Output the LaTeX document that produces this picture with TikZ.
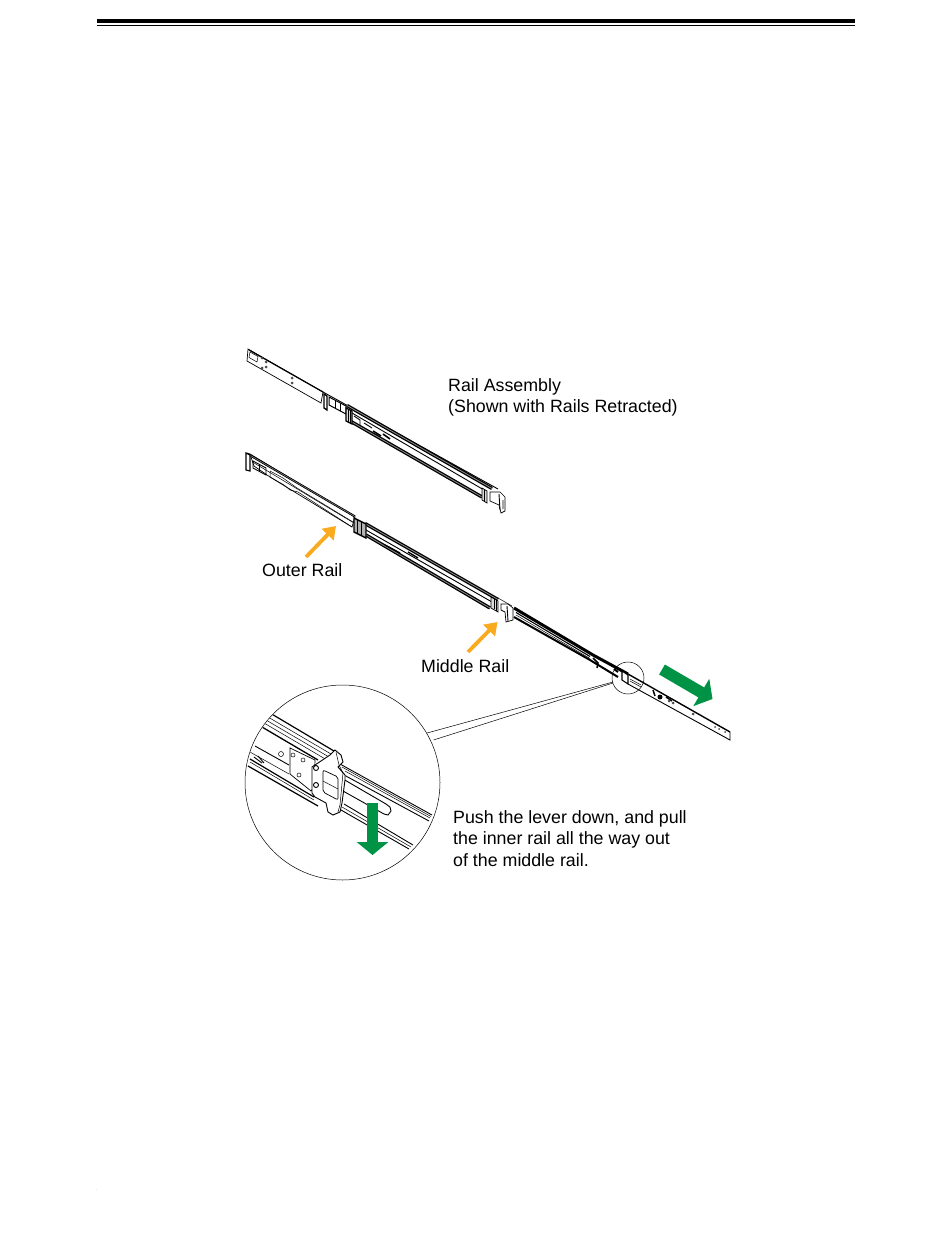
\documentclass[tikz,border=0pt]{standalone}
\usepackage{fontspec}
\setmainfont{Liberation Sans}
\usepackage{tikz}
\usetikzlibrary{arrows.meta}
\definecolor{rail_green}{RGB}{0, 146, 69}
\definecolor{rail_orange}{RGB}{250, 170, 30}
\tikzstyle{lbl}=[anchor=north west,align=left,inner sep=0pt,
  font=\fontsize{17.8}{21.7}\selectfont]
\tikzstyle{thin}=[line width=0.5pt,draw=black]
\tikzstyle{mid}=[line width=0.9pt,draw=black]
\tikzstyle{band}=[line width=2.2pt,draw=black]
\tikzstyle{dband}=[line width=1.3pt,draw=black,double=black!45,double distance=0.8pt]
\tikzstyle{part}=[line width=0.7pt,draw=black,fill=white]
\tikzstyle{hole}=[circle,fill=black!70,inner sep=0pt,minimum size=3pt]
\tikzstyle{oarrow}=[line width=3.8pt,draw=rail_orange,
  -{Triangle[length=12pt,width=16pt,fill=rail_orange]}]
\tikzstyle{garrow}=[line width=11.5pt,draw=rail_green,
  -{Triangle[length=13pt,width=31pt,fill=rail_green]}]
\begin{document}
\begin{tikzpicture}[x=1pt,y=-1pt]
  \useasboundingbox (0,0) rectangle (950,1241);
  \fill [black] (97,19.5) rectangle (855,23.5);
  \fill [black] (97,25.2) rectangle (855,26);

  \draw [part] (248,349) -- (323,392) -- (321,403) -- (247,361) -- cycle;
  \draw [line width=1.2pt] (249,350) -- (323,392);
  \draw [thin] (250,352) -- (258,356.5) -- (257,362) -- (249,357.5) -- cycle;
  \node [style=hole] (ha) at (262,358) {};
  \node [style=hole] (hb) at (262,368) {};
  \node [style=hole] (hc) at (266,362) {};
  \node [style=hole] (hd) at (266,367) {};
  \node [style=hole] (he) at (292,378) {};
  \node [style=hole] (hf) at (292,383) {};
  \draw [mid] (323,392) -- (498,489);
  \draw [dband] (347,405.5) -- (492,488.5);
  \draw [mid] (352,413) -- (484,490);
  \draw [dband] (351,421.5) -- (482,497);
  \draw [part,line width=1.3pt] (324,394) -- (327,396) -- (327,410) -- (324,408) -- cycle;
  \draw [part,line width=1pt] (329,397) -- (346,406) -- (346,414) -- (329,405) -- cycle;
  \draw [mid] (335,400) -- (335,408) (340,403) -- (340,411);
  \draw [part,line width=1.2pt,fill=black!15] (346,408) -- (352,411) -- (352,424) -- (346,421) -- cycle;
  \draw [thin] (348,409) -- (348,422) (350,410) -- (350,423);
  \draw [mid] (354,416) -- (360,420) -- (360,425) (364,423) -- (372,428);
  \draw [line width=1.6pt] (373,431) -- (381,436) (383,434) -- (390,439);
  \draw [part,fill=black!15] (482,488) -- (487,491) -- (487,503) -- (482,500) -- cycle;
  \draw [thin] (484.5,489.5) -- (484.5,501.5);
  \draw [part] (490,492) -- (500,492) -- (505,497) -- (505,511) -- (501,513) -- (499,505) -- (490,501) -- cycle;
  \draw [mid] (499,494) -- (500,510) (503,500) -- (503,509);

  \draw [part] (250,454) -- (355,517) -- (352,527) -- (270,477) -- (254,466) -- cycle;
  \draw [dband,line width=0.8pt,double distance=0.5pt] (247,453.5) -- (355,516.5);
  \draw [thin] (252,461.7) -- (353,522.5);
  \draw [thin] (270,471) -- (283,478) -- (297,488) -- (353,522);
  \draw [thin] (270,471) -- (270,477) -- (284,485) -- (290,490) -- (298,492) -- (352,527);
  \draw [part,line width=1.2pt] (246,453) -- (250,455) -- (250,471) -- (246,470) -- cycle;
  \draw [mid] (253,461) -- (266,468) -- (266,475) -- (253,468) -- cycle;
  \draw [mid] (259,465) -- (259,472);
  \draw [dband] (365,523.5) -- (498,599.5);
  \draw [mid] (366,530) -- (492,602);
  \draw [dband] (366,535) -- (490,608);
  \draw [part,line width=1.4pt,fill=black!30] (354,518) -- (366,524) -- (366,538) -- (354,532) -- cycle;
  \draw [mid] (357,520) -- (357,533) (361,522) -- (361,535);
  \draw [line width=1.4pt] (385,545) -- (400,553) (408,552) -- (418,558);
  \draw [part,fill=black!15] (491,597) -- (498,601) -- (498,612) -- (491,608) -- cycle;
  \draw [thin] (494,599) -- (494,609) (496,600) -- (496,611);
  \draw [thin] (498,598) -- (512,606);
  \draw [part] (501,604) -- (508,604) -- (513,608) -- (513,620) -- (506,622) -- (505,612) -- (501,610) -- cycle;
  \draw [mid] (507,606) -- (508,621);

  \draw [line width=3pt] (514,608) -- (593,655) -- (628,674);
  \draw [line width=1.1pt] (516,612.5) -- (590,656.5);
  \draw [line width=2pt] (514,617) -- (590,660) -- (618,677);
  \draw [thin] (516,615) -- (590,658.5);
  \draw [line width=1.5pt] (593,658) -- (598,663) -- (597,668);
  \draw [line width=2pt] (614,669) -- (618,672);
  \draw [part,line width=1.1pt] (622,671) -- (628,675) -- (628,684) -- (622,680) -- cycle;
  \draw [line width=1.4pt] (628,674) -- (730,732);
  \draw [mid] (730,732) -- (730,740) -- (628,684);
  \draw [thin] (630,679) -- (641,685) (630,681) -- (641,687);
  \draw [line width=1.5pt] (653,690) -- (655,696) (666,697) -- (672,701);
  \node [style=hole,minimum size=5pt,fill=black] (hg) at (660,697) {};
  \node [style=hole] (hh) at (669,701) {};
  \node [style=hole] (hi) at (673,703) {};
  \node [style=hole] (hj) at (693,714) {};
  \node [style=hole,minimum size=2pt] (hk) at (715,727) {};
  \node [style=hole,minimum size=2pt] (hl) at (719,729) {};
  \node [style=hole,minimum size=2pt] (hm) at (725,732) {};

  \node [circle,draw=black,line width=0.5pt,minimum size=32pt,inner sep=0pt] (zoomsmall) at (628,678) {};
  \node [circle,draw=black,line width=0.5pt,minimum size=195pt,inner sep=0pt] (zoombig) at (342.5,782.5) {};
  \coordinate (leadera) at (427,733);
  \coordinate (leaderb) at (433.5,740);
  \coordinate (leaderc) at (613,682);
  \coordinate (leaderd) at (613,683);
  \draw [thin] (leadera) to (leaderc);
  \draw [thin] (leaderb) to (leaderd);

  \begin{scope}
    \clip (342.5,782.5) circle [radius=97pt];
    \draw [line width=1.2pt] (270,713) -- (334,751);
    \draw [thin] (268,717) -- (331,754);
    \draw [thin] (266,720) -- (329,757);
    \draw [thin] (264,723) -- (327,760);
    \draw [line width=1.3pt] (262,727) -- (318,760);
    \draw [mid] (255,746) -- (289,765);
    \draw [thin] (250,752) -- (289,774);
    \draw [line width=1.2pt] (250,759) -- (314,797);
    \draw [thin] (250,762) -- (314,800);
    \draw [line width=1.2pt] (248,766) -- (318,806);
    \draw [mid] (254,757) -- (262,763) (258,756) -- (264,763);
    \draw [mid] (340,764) -- (432,815);
    \draw [thin] (342,767) -- (431,816.5);
    \draw [thin] (345,771) -- (430,818);
    \draw [mid] (344,775) -- (429,821);
    \draw [mid] (343,779) -- (386,804) -- (390,807) -- (391,811) -- (388,815) -- (384,814) -- (343,791);
    \draw [mid] (344,804) -- (413,845);
    \draw [thin] (342,807) -- (411,847);
    \draw [mid] (341,810) -- (409,849);
    \draw [part] (290,748) -- (315,760) -- (314,787) -- (311,791) -- (290,774) -- cycle;
    \node [circle,draw=black,line width=0.5pt,minimum size=5pt,inner sep=0pt] (pa) at (281,754) {};
    \node [circle,draw=black,line width=0.5pt,minimum size=4pt,inner sep=0pt] (pb) at (293,755) {};
    \node [circle,draw=black,line width=0.5pt,minimum size=4pt,inner sep=0pt] (pc) at (303,760) {};
    \node [circle,draw=black,line width=0.5pt,minimum size=4pt,inner sep=0pt] (pd) at (299,775) {};
    \draw [part,line width=0.9pt] (312,767) -- (330,755) -- (335,750) -- (341,755) -- (343,762) -- (338,767) -- (345,775) -- (345,780) -- (342,803) -- (340,812) -- (333,815) -- (328,812) -- (326,803) -- (315,797) -- (312,793) -- cycle;
    \draw [thin] (336,752) -- (339,765) -- (343,773) -- (340,805) -- (338,812);
    \draw [part,rounded corners=2pt] (323,770) -- (338,777) -- (338,800) -- (323,792) -- cycle;
    \draw [thin] (323,781) -- (338,789);
    \node [circle,draw=black,line width=0.9pt,minimum size=5pt,inner sep=0pt] (sa) at (316,768) {};
    \node [circle,draw=black,line width=0.9pt,minimum size=5pt,inner sep=0pt] (sb) at (316,785) {};
  \end{scope}
  \coordinate (levertail) at (372.5,803);
  \coordinate (levertip) at (372.5,855);
  \draw [style=garrow] (levertail) to (levertip);
  \coordinate (pulltail) at (662,669.5);
  \coordinate (pulltip) at (712.5,699);
  \draw [style=garrow] (pulltail) to (pulltip);
  \coordinate (outertail) at (306,557);
  \coordinate (outertip) at (336,526);
  \draw [style=oarrow] (outertail) to (outertip);
  \coordinate (middletail) at (468,652);
  \coordinate (middletip) at (497.5,622);
  \draw [style=oarrow] (middletail) to (middletip);

  \node [style=lbl] (assembly) at (448,378) {Rail Assembly\\(Shown with Rails Retracted)};
  \node [style=lbl] (outer) at (262,563) {Outer Rail};
  \node [style=lbl] (middle) at (421,659.5) {Middle Rail};
  \node [style=lbl] (push) at (453,810) {Push the lever down, and pull\\the inner rail all the way out\\of the middle rail.};
  \node [inner sep=0pt,font=\fontsize{4}{4}\selectfont,text=black!50] (dot) at (97,1190) {.};
\end{tikzpicture}
\end{document}
